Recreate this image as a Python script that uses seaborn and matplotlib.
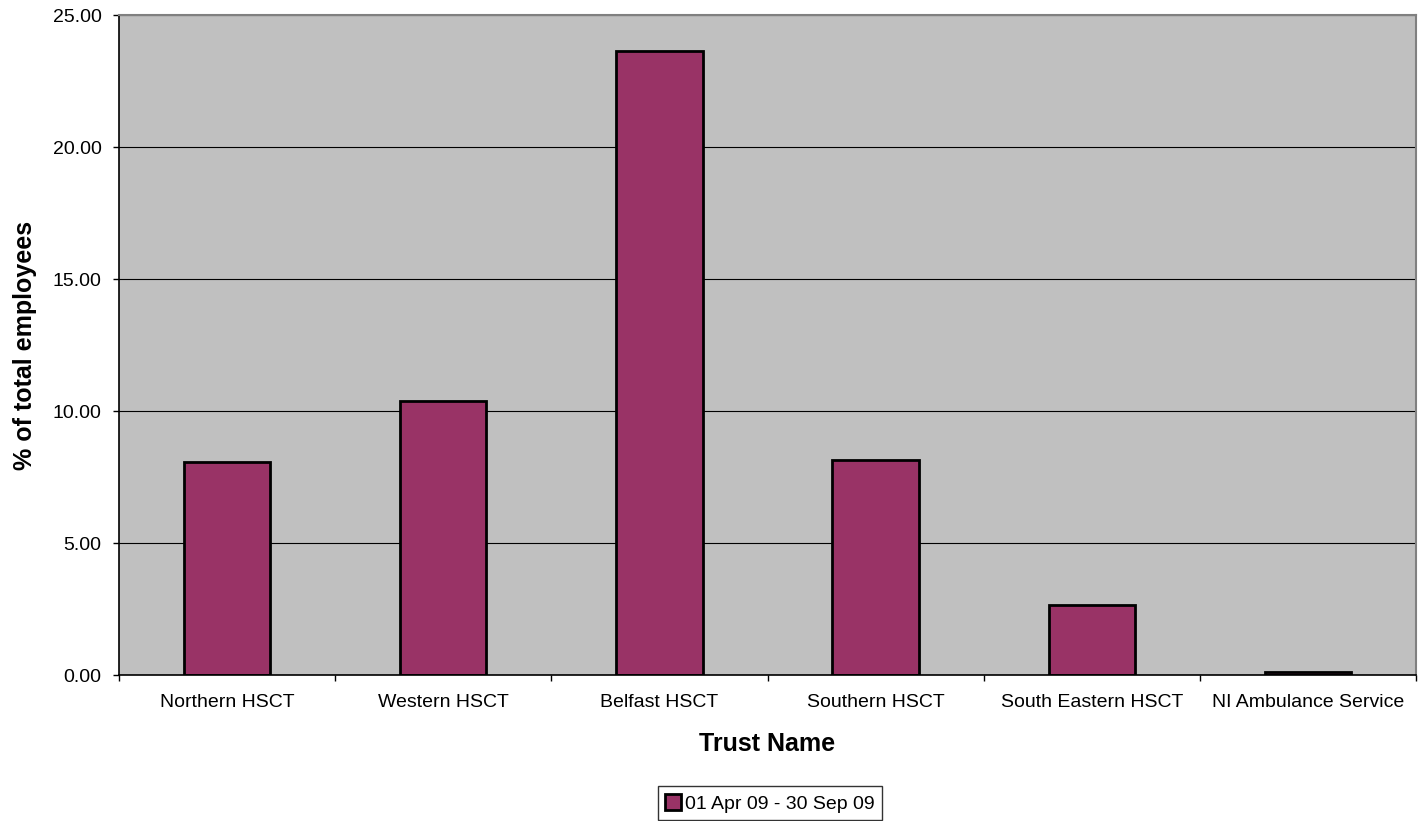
import matplotlib
matplotlib.use("Agg")
import matplotlib.pyplot as plt
import seaborn as sns
import pandas as pd
from matplotlib.patches import Patch

trusts = ["Northern HSCT", "Western HSCT", "Belfast HSCT", "Southern HSCT",
          "South Eastern HSCT", "NI Ambulance Service"]
values = [8.05, 10.36, 23.64, 8.13, 2.67, 0.12]
series_name = "01 Apr 09 - 30 Sep 09"

df = pd.DataFrame({"Trust Name": trusts, "pct": values})

sns.set_theme(style="white")
plt.rcParams['font.family'] = ['Liberation Sans', 'DejaVu Sans']
plt.rcParams['text.color'] = 'black'
plt.rcParams['axes.labelcolor'] = 'black'
plt.rcParams['xtick.color'] = 'black'
plt.rcParams['ytick.color'] = 'black'
plt.rcParams['xtick.bottom'] = True
plt.rcParams['ytick.left'] = True

fig = plt.figure(figsize=(14.18, 8.21), dpi=100)
ax = fig.add_axes([119/1418, 1 - 675/821, (1416-119)/1418, (675-15)/821])

sns.barplot(data=df, x="Trust Name", y="pct", color="#993366", width=0.4,
            edgecolor="black", linewidth=2, saturation=1, ax=ax)

ax.set_facecolor("#C0C0C0")
ax.set_ylim(0, 25)
ax.set_xlim(-0.5, 5.5)
ax.set_yticks([0, 5, 10, 15, 20, 25])
ax.set_yticklabels([f"{v:.2f}" for v in [0, 5, 10, 15, 20, 25]], fontsize=14)
ax.yaxis.grid(True, color="black", linewidth=0.8)
ax.set_axisbelow(True)
ax.set_xticks([i for i in range(6)])
ax.set_xticklabels(trusts, fontsize=14)
ax.set_xticks([i - 0.5 for i in range(7)], minor=True)
ax.tick_params(axis="x", which="major", length=0, pad=14)
ax.tick_params(axis="x", which="minor", bottom=True, length=4.5, color="black", width=1)
ax.tick_params(axis="y", length=4.5, color="black", width=1, left=True, pad=8)

for s in ["left", "bottom"]:
    ax.spines[s].set_color("black")
    ax.spines[s].set_linewidth(1.2)
for s in ["top", "right"]:
    ax.spines[s].set_color("#808080")
    ax.spines[s].set_linewidth(1.5)

ax.set_xlabel("Trust Name", fontsize=18, fontweight="bold", labelpad=15)
ax.set_ylabel("% of total employees", fontsize=18, fontweight="bold", labelpad=11)

handle = Patch(facecolor="#993366", edgecolor="black", linewidth=2)
leg = fig.legend([handle], [series_name], loc="upper center",
                 bbox_to_anchor=(770/1418, 1 - 786/821),
                 fontsize=14, frameon=True, fancybox=False, handlelength=0.8, handleheight=0.9,
                 handletextpad=0.2, borderpad=0.4, borderaxespad=0)
leg.get_frame().set_edgecolor("black")
leg.get_frame().set_linewidth(1)

fig.savefig("out.png", dpi=100)
